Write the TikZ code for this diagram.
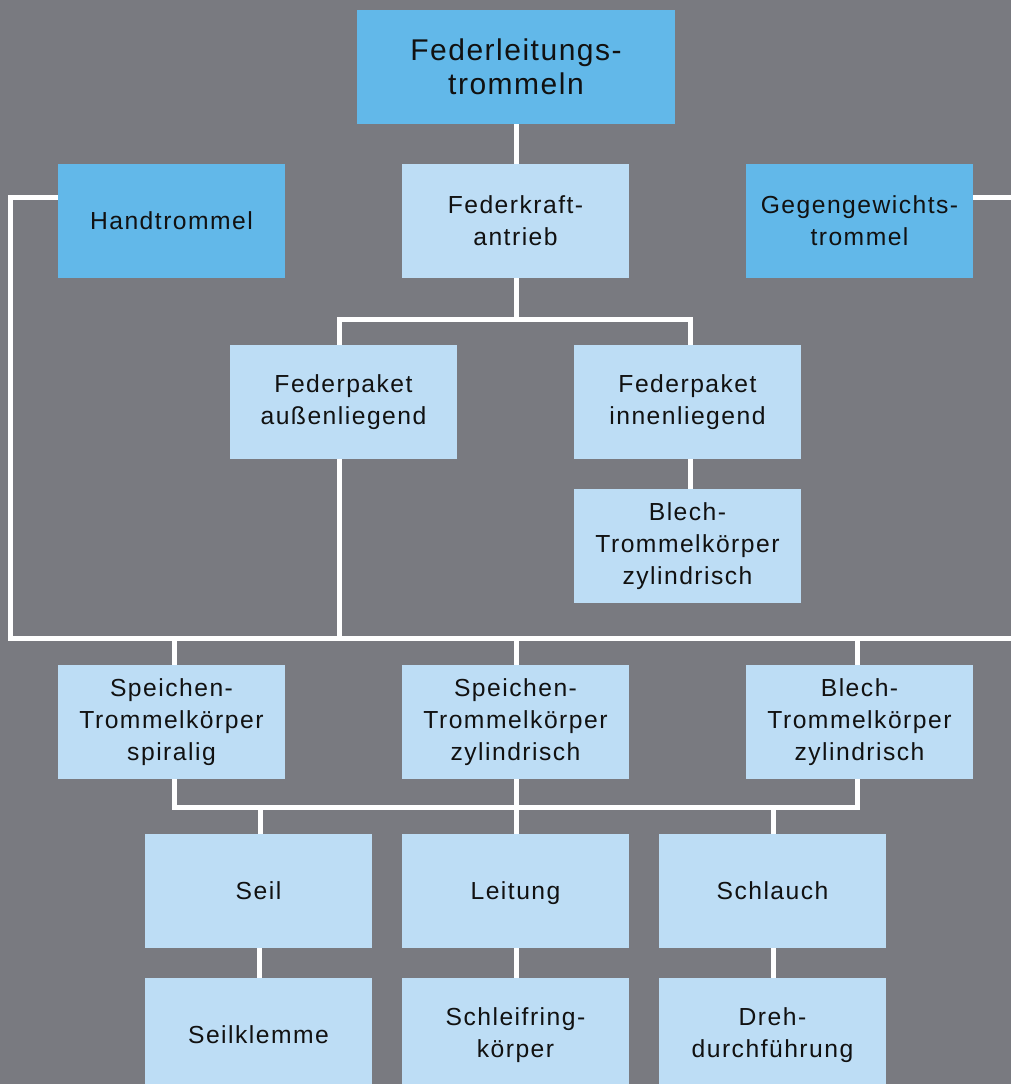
\documentclass[tikz,border=0pt]{standalone}
\usepackage{fontspec}
\setmainfont{Liberation Sans}[LetterSpace=6]
\definecolor{bgc}{HTML}{797A80}
\definecolor{darkbox}{HTML}{62B8E9}
\definecolor{lightbox}{HTML}{BDDDF5}
\definecolor{txt}{HTML}{111111}
\begin{document}
\begin{tikzpicture}[x=0.75pt,y=-0.75pt,
  box/.style={rectangle,inner sep=0pt,minimum width=170.25pt,minimum height=85.5pt,
    align=center,text=txt,font=\fontsize{18.5}{24}\selectfont},
  dbox/.style={box,fill=darkbox},
  lbox/.style={box,fill=lightbox},
  conn/.style={draw=white,line width=3.75pt,line join=miter}]
\useasboundingbox (0,0) rectangle (1011,1084);
\fill[bgc] (0,0) rectangle (1011,1084);
\clip (0,0) rectangle (1011,1084);
% nodes
\node[dbox,minimum width=238.5pt,font=\addfontfeature{LetterSpace=5}\fontsize{22.5}{25.5}\selectfont] (top) at (516,67) {Federleitungs-\\trommeln};
\node[dbox] (hand) at (171.5,221) {Handtrommel};
\node[lbox] (fk) at (515.5,221) {Federkraft-\\antrieb};
\node[dbox] (gg) at (859.5,221) {Gegengewichts-\\trommel};
\node[lbox] (fpa) at (343.5,402) {Federpaket\\außenliegend};
\node[lbox] (fpi) at (687.5,402) {Federpaket\\innenliegend};
\node[lbox] (bz1) at (687.5,546) {Blech-\\Trommelkörper\\zylindrisch};
\node[lbox] (s1) at (171.5,722) {Speichen-\\Trommelkörper\\spiralig};
\node[lbox] (s2) at (515.5,722) {Speichen-\\Trommelkörper\\zylindrisch};
\node[lbox] (s3) at (859.5,722) {Blech-\\Trommelkörper\\zylindrisch};
\node[lbox] (seil) at (258.5,891) {Seil};
\node[lbox,text depth=0pt] (leit) at (515.5,891) {Leitung};
\node[lbox] (schl) at (772.5,891) {Schlauch};
\node[lbox] (sk) at (258.5,1035) {Seilklemme};
\node[lbox] (srk) at (515.5,1035) {Schleifring-\\körper};
\node[lbox] (dd) at (772.5,1035) {Dreh-\\durchführung};
% junction coordinates
\coordinate (jfk) at (516,319);
\coordinate (jl) at (10,198);
\coordinate (bus) at (10,638.5);
\coordinate (busr) at (1020,638.5);
\coordinate (jr) at (1020,198);
\coordinate (jb) at (174,807.5);
\coordinate (jbr) at (857,807.5);
% connectors
\draw[conn] (top.south -| jfk) -- (fk.north -| jfk);
\draw[conn] (fk.south -| jfk) -- (jfk);
\draw[conn] (339,0 |- fpa.north) -- (339,319) -- (690.5,319) -- (690.5,0 |- fpi.north);
\draw[conn] (690.5,0 |- fpi.south) -- (690.5,0 |- bz1.north);
\draw[conn] (hand.west |- jl) -- (jl) -- (bus) -- (busr);
\draw[conn] (gg.east |- jr) -- (jr) -- (busr);
\draw[conn] (339,0 |- fpa.south) -- (339,638.5);
\draw[conn] (174,638.5) -- (174,0 |- s1.north);
\draw[conn] (516,638.5) -- (516,0 |- s2.north);
\draw[conn] (857,638.5) -- (857,0 |- s3.north);
\draw[conn] (174,0 |- s1.south) -- (jb) -- (jbr) -- (857,0 |- s3.south);
\draw[conn] (516,0 |- s2.south) -- (516,0 |- leit.north);
\draw[conn] (260,807.5) -- (260,0 |- seil.north);
\draw[conn] (773,807.5) -- (773,0 |- schl.north);
\draw[conn] (259,0 |- seil.south) -- (259,0 |- sk.north);
\draw[conn] (516,0 |- leit.south) -- (516,0 |- srk.north);
\draw[conn] (773,0 |- schl.south) -- (773,0 |- dd.north);
\end{tikzpicture}
\end{document}
